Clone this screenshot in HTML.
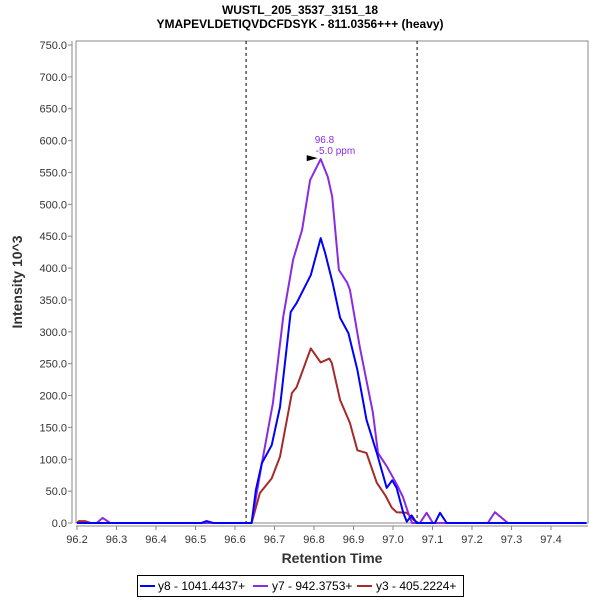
<!DOCTYPE html>
<html><head><meta charset="utf-8">
<style>
body{margin:0;background:#fff;width:600px;height:600px;overflow:hidden;font-family:"Liberation Sans",sans-serif}
svg text{font-family:"Liberation Sans",sans-serif}
</style></head>
<body>
<svg id="chart" width="600" height="600" viewBox="0 0 600 600" xmlns="http://www.w3.org/2000/svg">
<rect width="600" height="600" fill="#fff"/>
<text x="300" y="14" text-anchor="middle" font-size="12" font-weight="bold" fill="#000">WUSTL_205_3537_3151_18</text>
<text x="300" y="28" text-anchor="middle" font-size="12" font-weight="bold" fill="#000">YMAPEVLDETIQVDCFDSYK - 811.0356+++ (heavy)</text>
<rect x="76" y="41" width="512" height="482" fill="#fff" stroke="#888" stroke-width="1"/>
<line x1="72" y1="41" x2="72" y2="523" stroke="#888"/>
<line x1="76" y1="526" x2="588" y2="526" stroke="#888"/>
<g id="yticks"></g><g id="xticks"></g>
<g id="marks"></g>
<text x="22" y="282" transform="rotate(-90 22 282)" text-anchor="middle" font-size="14" font-weight="bold" fill="#333">Intensity 10^3</text>
<text x="332" y="563" text-anchor="middle" font-size="14" font-weight="bold" fill="#333">Retention Time</text>
<g>
<rect x="137.5" y="575.5" width="326" height="21" fill="#fff" stroke="#000"/>
<line x1="140" y1="586" x2="155" y2="586" stroke="#0000ff" stroke-width="2"/>
<text x="158" y="590" font-size="12" fill="#000">y8 - 1041.4437+</text>
<line x1="253" y1="586" x2="268" y2="586" stroke="#8a2be2" stroke-width="2"/>
<text x="272" y="590" font-size="12" fill="#000">y7 - 942.3753+</text>
<line x1="357" y1="586" x2="372" y2="586" stroke="#a52a2a" stroke-width="2"/>
<text x="376" y="590" font-size="12" fill="#000">y3 - 405.2224+</text>
</g>
</svg>
<script>
const xTicks=[96.2,96.3,96.4,96.5,96.6,96.7,96.8,96.9,97.0,97.1,97.2,97.3,97.4];
const yTicks=[0,50,100,150,200,250,300,350,400,450,500,550,600,650,700,750];
const boundaries=[96.628,97.061];
const y7x=[96.2,96.25,96.265,96.284,96.642,96.668,96.696,96.722,96.747,96.770,96.790,96.817,96.835,96.846,96.863,96.884,96.891,96.916,96.949,96.962,96.985,97.010,97.025,97.038,97.048,97.068,97.085,97.101,97.240,97.258,97.291,97.49];
const y7v=[0,0,8,0,0,94,188,323,413,460,538,571,543,512,397,377,366,276,173,110,88,60,41,17,0,0,16,0,0,17,0,0];
const y8x=[96.2,96.515,96.528,96.545,96.642,96.653,96.668,96.693,96.714,96.741,96.756,96.792,96.817,96.828,96.847,96.866,96.887,96.910,96.933,96.959,96.984,96.998,97.009,97.026,97.035,97.047,97.060,97.106,97.119,97.136,97.49];
const y8v=[0,0,3,0,0,52,94,122,182,331,345,389,447,424,377,322,298,240,162,110,55,67,55,16,2,12,0,0,16,0,0];
const y3x=[96.2,96.205,96.22,96.235,96.642,96.663,96.693,96.714,96.744,96.756,96.792,96.817,96.839,96.845,96.866,96.891,96.910,96.933,96.959,96.980,96.997,97.009,97.035,97.052,97.064,97.49];
const y3v=[0,3,3,0,0,47,70,104,204,213,274,252,258,251,193,157,114,110,63,44,24,17,16,5,0,0];
const peakX=96.817, peakV=571, peakLabel="96.8", ppmLabel="-5.0 ppm";
const NS="http://www.w3.org/2000/svg";
function X(v){return 77+(v-96.2)*395;}
function Y(v){return 523-v*478/750;}
function mk(t,a,p){const e=document.createElementNS(NS,t);for(const k in a)e.setAttribute(k,a[k]);p.appendChild(e);return e;}
const yg=document.getElementById('yticks'),xg=document.getElementById('xticks'),mg=document.getElementById('marks');
yTicks.forEach(v=>{
  const l=mk('line',{x1:68,x2:72,y1:Y(v),y2:Y(v),stroke:'#888'},yg);
  
  
  const t=mk('text',{x:67,y:Y(v)+4,'text-anchor':'end','font-size':11,fill:'#333'},yg);
  t.textContent=v.toFixed(1);
  
  
});
xTicks.forEach(v=>{
  const l=mk('line',{x1:X(v),x2:X(v),y1:526,y2:530,stroke:'#888'},xg);
  
  
  const t=mk('text',{x:X(v),y:543,'text-anchor':'middle','font-size':11,fill:'#333'},xg);
  t.textContent=v.toFixed(1);
  
  
});
boundaries.forEach(v=>{
  const l=mk('line',{x1:X(v),x2:X(v),y1:41,y2:523,stroke:'#000','stroke-dasharray':'3,3','stroke-width':1},mg);
  
  
});
function series(xs,vs,col,name){
  const p=mk('polyline',{points:xs.map((x,i)=>X(x).toFixed(1)+','+Y(vs[i]).toFixed(1)).join(' '),fill:'none',stroke:col,'stroke-width':2,'stroke-linejoin':'round'},mg);
  
  
}
series(y3x,y3v,'#a52a2a','series-y3');
series(y7x,y7v,'#8a2be2','series-y7');
series(y8x,y8v,'#0000ff','series-y8');
const px=X(peakX),py=Y(peakV);
const a=mk('polygon',{points:(px-14)+','+(py-4)+' '+(px-3)+','+(py-1)+' '+(px-14)+','+(py+2),fill:'#000'},mg);


const t1=mk('text',{x:px-6,y:py-16,'font-size':10,fill:'#8a2be2'},mg);
t1.textContent=peakLabel;


const t2=mk('text',{x:px-5,y:py-5,'font-size':10,fill:'#8a2be2'},mg);
t2.textContent=ppmLabel;


</script>
</body></html>
